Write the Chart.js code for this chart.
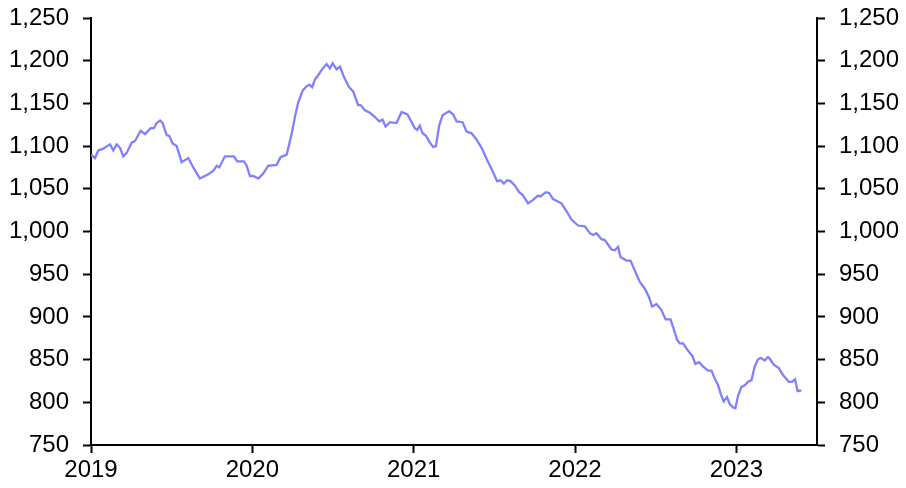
<!DOCTYPE html>
<html lang="en">
<head>
    <meta charset="UTF-8">
    <title>Index chart 2019-2023</title>
    <script src="https://cdn.jsdelivr.net/npm/chart.js"></script>
    <style>
        body { margin: 0; background: #fff; }
        #chart { display: block; }
    </style>
</head>
<body>
    <canvas id="chart" width="906" height="488"></canvas>
    <script>
        // Fechas como año decimal
        const dates = [
            2019.000, 2019.025, 2019.045, 2019.076, 2019.118, 2019.138, 2019.159, 2019.180, 2019.200, 2019.221,
            2019.252, 2019.273, 2019.308, 2019.335, 2019.370, 2019.390, 2019.407, 2019.428, 2019.444, 2019.469,
            2019.485, 2019.506, 2019.531, 2019.562, 2019.603, 2019.634, 2019.675, 2019.727, 2019.758, 2019.779,
            2019.795, 2019.830, 2019.886, 2019.906, 2019.948, 2019.965, 2019.985, 2020.006, 2020.037, 2020.068,
            2020.098, 2020.151, 2020.175, 2020.213, 2020.243, 2020.264, 2020.284, 2020.312, 2020.336, 2020.353,
            2020.371, 2020.388, 2020.408, 2020.429, 2020.460, 2020.481, 2020.498, 2020.522, 2020.543, 2020.568,
            2020.600, 2020.625, 2020.656, 2020.671, 2020.698, 2020.729, 2020.760, 2020.786, 2020.807, 2020.826,
            2020.853, 2020.894, 2020.925, 2020.962, 2020.976, 2021.007, 2021.022, 2021.038, 2021.055, 2021.076,
            2021.100, 2021.121, 2021.138, 2021.158, 2021.179, 2021.220, 2021.245, 2021.266, 2021.303, 2021.328,
            2021.359, 2021.385, 2021.421, 2021.462, 2021.493, 2021.517, 2021.538, 2021.559, 2021.579, 2021.600,
            2021.627, 2021.654, 2021.675, 2021.709, 2021.740, 2021.771, 2021.786, 2021.819, 2021.840, 2021.864,
            2021.916, 2021.947, 2021.978, 2022.019, 2022.061, 2022.092, 2022.112, 2022.133, 2022.164, 2022.185,
            2022.226, 2022.247, 2022.267, 2022.282, 2022.319, 2022.344, 2022.371, 2022.402, 2022.433, 2022.459,
            2022.478, 2022.505, 2022.536, 2022.561, 2022.592, 2022.608, 2022.633, 2022.649, 2022.670, 2022.695,
            2022.728, 2022.746, 2022.769, 2022.793, 2022.824, 2022.846, 2022.866, 2022.887, 2022.903, 2022.922,
            2022.942, 2022.959, 2022.980, 2022.994, 2023.011, 2023.032, 2023.052, 2023.073, 2023.094, 2023.114,
            2023.134, 2023.151, 2023.176, 2023.196, 2023.207, 2023.232, 2023.263, 2023.289, 2023.326, 2023.345,
            2023.364, 2023.380, 2023.403
        ];

        const values = [
            1090, 1086, 1095, 1097, 1102, 1095, 1102, 1098, 1088, 1092,
            1104, 1106, 1118, 1114, 1121, 1121, 1127, 1130, 1127, 1113,
            1112, 1103, 1100, 1081, 1086, 1075, 1062, 1067, 1071, 1077,
            1075, 1088, 1088, 1082, 1082, 1077, 1065, 1065, 1062, 1068,
            1077, 1078, 1087, 1090, 1114, 1134, 1151, 1165, 1170, 1172,
            1169, 1178, 1183, 1189, 1196, 1191, 1197, 1190, 1193, 1181,
            1169, 1164, 1148, 1148, 1142, 1139, 1134, 1129, 1131, 1123,
            1128, 1127, 1140, 1137, 1132, 1121, 1119, 1124, 1115, 1112,
            1104, 1099, 1100, 1124, 1136, 1141, 1137, 1129, 1128, 1117,
            1115, 1109, 1098, 1081, 1069, 1059, 1060, 1056, 1060, 1059,
            1054, 1046, 1043, 1033, 1037, 1042, 1041, 1046, 1045, 1038,
            1033, 1024, 1014, 1007, 1006, 998, 996, 998, 991, 990,
            979, 978, 982, 970, 966, 966, 954, 941, 933, 923,
            912, 915, 908, 897, 897, 888, 873, 869, 869, 862,
            854, 845, 847, 842, 837, 837, 828, 820, 810, 801,
            806, 798, 794, 793, 808, 818, 820, 824, 826, 842,
            850, 852, 849, 853, 851, 844, 840, 832, 824, 824,
            827, 813, 814
        ];

        const yearTicks = [2019, 2020, 2021, 2022, 2023];
        const valueTicks = [750, 800, 850, 900, 950, 1000, 1050, 1100, 1150, 1200, 1250];

        const points = dates.map((d, i) => ({ x: d, y: values[i] }));

        const tickFont = { family: 'Liberation Sans, Arial, sans-serif', size: 24 };

        function yAxis(position) {
            return {
                position: position,
                min: 750,
                max: 1250,
                afterBuildTicks: (scale) => { scale.ticks = valueTicks.map(v => ({ value: v })); },
                afterFit: (scale) => {
                    scale.width = position === 'left' ? 91 : 89;
                    scale.paddingTop = 0;
                    scale.paddingBottom = 0;
                },
                border: { display: true, color: '#000', width: 2 },
                grid: { drawOnChartArea: false, drawTicks: true, tickLength: 8, tickWidth: 2, tickColor: '#000' },
                ticks: {
                    color: '#000',
                    font: tickFont,
                    padding: 14,
                    callback: (v) => v.toLocaleString('en-US')
                }
            };
        }

        new Chart(document.getElementById('chart'), {
            type: 'line',
            data: {
                datasets: [{
                    data: points,
                    borderColor: '#8080ff',
                    borderWidth: 2.3,
                    pointRadius: 0,
                    tension: 0,
                    yAxisID: 'y'
                }]
            },
            options: {
                responsive: false,
                animation: false,
                layout: { padding: { top: 18, left: 0, right: 0, bottom: 0 } },
                plugins: { legend: { display: false }, tooltip: { enabled: false } },
                scales: {
                    x: {
                        type: 'linear',
                        min: 2019,
                        max: 2023.5,
                        afterBuildTicks: (scale) => { scale.ticks = yearTicks.map(v => ({ value: v })); },
                        afterFit: (scale) => {
                            scale.height = 43;
                            scale.paddingLeft = 0;
                            scale.paddingRight = 0;
                        },
                        border: { display: true, color: '#000', width: 2 },
                        grid: { drawOnChartArea: false, drawTicks: true, tickLength: 8, tickWidth: 2, tickColor: '#000' },
                        ticks: {
                            color: '#000',
                            font: tickFont,
                            padding: 3,
                            maxRotation: 0,
                            callback: (v) => String(v)
                        }
                    },
                    y: yAxis('left'),
                    y2: yAxis('right')
                }
            }
        });
    </script>
</body>
</html>
